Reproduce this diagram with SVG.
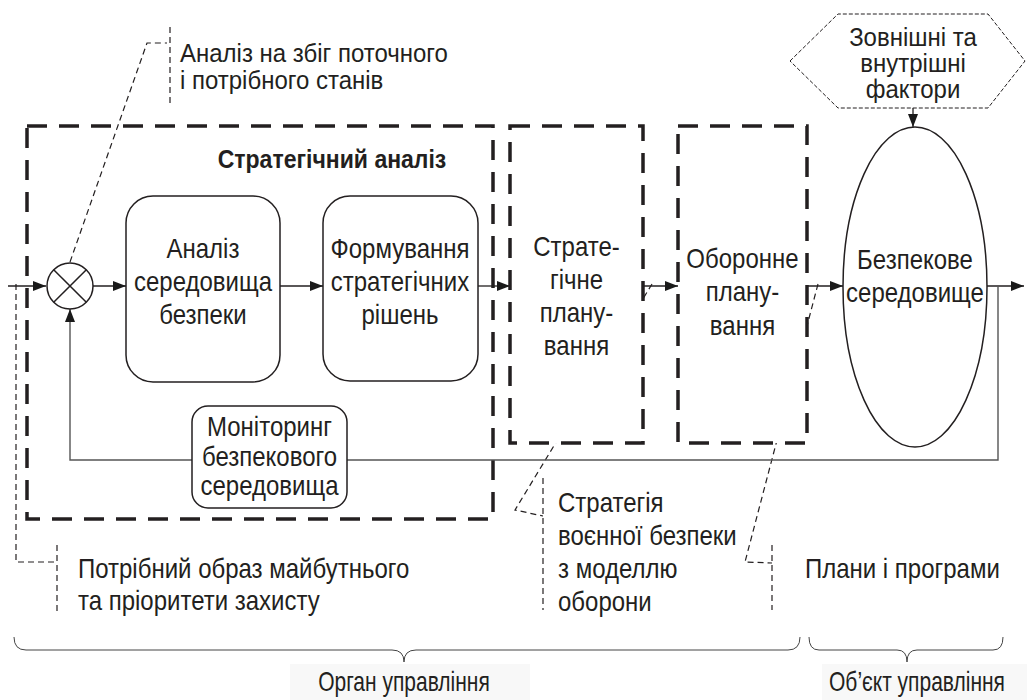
<svg xmlns="http://www.w3.org/2000/svg" width="1027" height="700" viewBox="0 0 1027 700">
<defs>
<marker id="ah" markerUnits="userSpaceOnUse" markerWidth="13" markerHeight="10" refX="13" refY="5" orient="auto">
<path d="M0,0 L13,5 L0,10 z" fill="#1a1a1a"/>
</marker>
</defs>
<style>
text{font-family:"Liberation Sans",Arial,sans-serif;fill:#231f20;transform-box:fill-box}
.n{font-size:28px;text-anchor:middle;transform-origin:center;transform:scaleX(.857)}
.h{font-size:25px;text-anchor:middle;transform-origin:center;transform:scaleX(.96)}
.c{font-size:28px;transform-origin:left center;transform:scaleX(.857)}
.t{font-size:26px;transform-origin:left center;transform:scaleX(.923)}
.b{font-size:26px;font-weight:bold;text-anchor:middle;transform-origin:center;transform:scaleX(.885)}
.u{font-size:28px;text-anchor:middle;transform-origin:center;transform:scaleX(.75)}
.box{fill:#fff;stroke:#231f20;stroke-width:1.5}
.bigd{fill:none;stroke:#231f20;stroke-width:3.5;stroke-dasharray:20 12}
.bigdw{fill:#fff;stroke:#231f20;stroke-width:3.5;stroke-dasharray:20 12}
.call{fill:none;stroke:#231f20;stroke-width:1.2;stroke-dasharray:6 4}
.con{fill:none;stroke:#231f20;stroke-width:1.3}
.fb{fill:none;stroke:#555;stroke-width:1.4}
.br{fill:none;stroke:#444;stroke-width:1}
</style>
<rect width="1027" height="700" fill="#fff"/>
<rect x="290" y="664" width="240" height="36" fill="#f8f8f8"/>
<rect x="822" y="664" width="205" height="36" fill="#f8f8f8"/>

<g id="callouts">
<path class="call" d="M70,262 L147,43 H167"/>
<path class="call" d="M170,27 V106"/>
<path class="call" d="M16,284 V562 H55"/>
<path class="call" d="M57,545 V612"/>
<path class="call" d="M652,284 L515,510 L543,516"/>
<path class="call" d="M543,478 V610"/>
<path class="call" d="M818,284 L745,562 L772,563"/>
<path class="call" d="M772,545 V610"/>
</g>

<g id="group-strategic-analysis">
<rect class="bigd" x="27" y="126" width="466" height="393"/>
<text class="b" x="332" y="168">Стратегічний аналіз</text>
</g>

<g id="connectors">
<path class="con" d="M8,286 H46" marker-end="url(#ah)"/>
<path class="con" d="M93,286 H126" marker-end="url(#ah)"/>
<path class="con" d="M280,286 H323" marker-end="url(#ah)"/>
<path class="con" d="M478,286 H510" marker-end="url(#ah)"/>
<path class="con" d="M643,286 H678" marker-end="url(#ah)"/>
<path class="con" d="M807,286 H843" marker-end="url(#ah)"/>
<path class="con" d="M987,286 H1024" marker-end="url(#ah)"/>
<path class="fb" d="M998,286 V460 H70 V309" marker-end="url(#ah)"/>
<path class="con" d="M913,108 V127" marker-end="url(#ah)"/>
</g>

<g id="junction">
<circle cx="70" cy="286" r="23" fill="#fff" stroke="#231f20" stroke-width="1.5"/>
<path d="M53.7,269.7 L86.3,302.3 M86.3,269.7 L53.7,302.3" stroke="#231f20" stroke-width="1.5"/>
</g>

<g id="node-analysis">
<rect class="box" x="126" y="196" width="154" height="186" rx="27"/>
<text class="n" x="203" y="258">Аналіз</text>
<text class="n" x="203" y="291">середовища</text>
<text class="n" x="203" y="324">безпеки</text>
</g>

<g id="node-forming">
<rect class="box" x="323" y="196" width="155" height="185" rx="27"/>
<text class="n" x="400" y="258">Формування</text>
<text class="n" x="400" y="291">стратегічних</text>
<text class="n" x="400" y="324">рішень</text>
</g>

<g id="node-monitoring">
<rect class="box" x="192" y="406" width="155" height="102" rx="16"/>
<text class="n" x="269.5" y="436">Моніторинг</text>
<text class="n" x="269.5" y="466">безпекового</text>
<text class="n" x="269.5" y="495">середовища</text>
</g>

<g id="node-strategic-planning">
<rect class="bigdw" x="510" y="126" width="133" height="317"/>
<text class="n" x="576.5" y="256">Страте-</text>
<text class="n" x="576.5" y="289">гічне</text>
<text class="n" x="576.5" y="322">плану-</text>
<text class="n" x="576.5" y="355">вання</text>
</g>

<g id="node-defense-planning">
<rect class="bigdw" x="678" y="126" width="129" height="317"/>
<text class="n" x="742.5" y="268">Оборонне</text>
<text class="n" x="742.5" y="301">плану-</text>
<text class="n" x="742.5" y="335">вання</text>
</g>

<g id="node-environment">
<ellipse cx="915" cy="287" rx="72" ry="160" fill="#fff" stroke="#231f20" stroke-width="1.5"/>
<text class="n" x="915" y="269">Безпекове</text>
<text class="n" x="915" y="302">середовище</text>
</g>

<g id="node-factors">
<polygon points="790,61 838,14 988,14 1025,61 988,108 838,108" fill="#fff" stroke="#231f20" stroke-width="1" stroke-dasharray="4 2"/>
<text class="h" x="913" y="46">Зовнішні та</text>
<text class="h" x="913" y="72">внутрішні</text>
<text class="h" x="913" y="98">фактори</text>
</g>

<g id="labels">
<text class="t" x="180" y="62">Аналіз на збіг поточного</text>
<text class="t" x="180" y="89">і потрібного станів</text>
<text class="c" x="78" y="578">Потрібний образ майбутнього</text>
<text class="c" x="78" y="610">та пріоритети захисту</text>
<text class="c" x="558" y="512">Стратегія</text>
<text class="c" x="558" y="545">воєнної безпеки</text>
<text class="c" x="558" y="578">з моделлю</text>
<text class="c" x="558" y="611">оборони</text>
<text class="c" x="805" y="578">Плани і програми</text>
</g>

<g id="braces">
<path class="br" d="M14,637 Q14,650 26,650 L392,650 Q404,650 404,662 Q404,650 416,650 L788,650 Q800,650 800,637"/>
<path class="br" d="M809,637 Q809,650 819,650 L897,650 Q907,650 907,662 Q907,650 917,650 L993,650 Q1003,650 1003,637"/>
<text class="u" x="404" y="691">Орган управління</text>
<text class="u" x="917" y="691">Об’єкт управління</text>
</g>
</svg>
